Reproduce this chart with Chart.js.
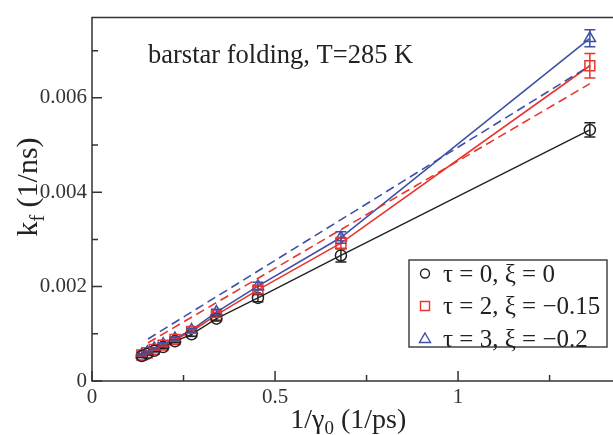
<!DOCTYPE html>
<html>
<head>
<meta charset="utf-8">
<script src="https://cdn.jsdelivr.net/npm/chart.js@4.4.0/dist/chart.umd.min.js"></script>
<style>
  html, body { margin: 0; padding: 0; overflow: hidden; background: #fff; }
  canvas { display: block; }
</style>
</head>
<body>
<canvas id="kfChart" width="613" height="435"></canvas>
<script>
// 1/gamma0 values (1/ps)
var invGamma = [0.1360, 0.1511, 0.1700, 0.1943, 0.2267, 0.2720, 0.3400, 0.4533, 0.6800, 1.3600];
// k_f (1/ns) for each parameter set
var kfTau0 = [0.00053, 0.00058, 0.00064, 0.00072, 0.00084, 0.00099, 0.00132, 0.00176, 0.00266, 0.00532];
var kfTau2 = [0.00055, 0.00060, 0.00067, 0.00076, 0.00088, 0.00105, 0.00140, 0.00193, 0.00292, 0.00668];
var kfTau3 = [0.00056, 0.00061, 0.00069, 0.00078, 0.00090, 0.00108, 0.00146, 0.00201, 0.00304, 0.00726];
// error bars
var errTau0 = [0.00002, 0.00002, 0.00002, 0.00003, 0.00003, 0.00004, 0.00005, 0.00008, 0.00014, 0.00015];
var errTau2 = [0.00002, 0.00002, 0.00002, 0.00003, 0.00003, 0.00004, 0.00005, 0.00008, 0.00012, 0.00026];
var errTau3 = [0.00002, 0.00002, 0.00002, 0.00003, 0.00003, 0.00004, 0.00006, 0.00008, 0.00012, 0.00018];
// dashed linear extrapolations
var dashX = [0.153, 1.36];
var dashTau2 = [0.00081, 0.00630];
var dashTau3 = [0.00089, 0.00668];

var legendLabels = ["\u03c4 = 0, \u03be = 0", "\u03c4 = 2, \u03be = \u22120.15", "\u03c4 = 3, \u03be = \u22120.2"];
var blackColor = "#222222";
var redColor = "#e8352d";
var blueColor = "#3d50a6";
var serif = "'Liberation Serif', 'DejaVu Serif', serif";

function toPoints(xs, ys) {
    var pts = [];
    for (var i = 0; i < xs.length; i++) {
        pts.push({ x: xs[i], y: ys[i] });
    }
    return pts;
}

function isMultiple(v, step) {
    var r = v / step;
    return Math.abs(r - Math.round(r)) < 1e-6;
}

var datasets = [
    { label: "dash3", data: toPoints(dashX, dashTau3), borderColor: blueColor, borderWidth: 1.6, borderDash: [9, 5], pointRadius: 0, showLine: true },
    { label: "dash2", data: toPoints(dashX, dashTau2), borderColor: redColor, borderWidth: 1.6, borderDash: [9, 5], pointRadius: 0, showLine: true },
    { label: "tau0", data: toPoints(invGamma, kfTau0), err: errTau0, borderColor: blackColor, borderWidth: 1.4, showLine: true,
      pointStyle: "circle", pointRadius: 5.5, pointBorderColor: blackColor, pointBackgroundColor: "rgba(0,0,0,0)", pointBorderWidth: 1.5 },
    { label: "tau2", data: toPoints(invGamma, kfTau2), err: errTau2, borderColor: redColor, borderWidth: 1.6, showLine: true,
      pointStyle: "rect", pointRadius: 7, pointBorderColor: redColor, pointBackgroundColor: "rgba(0,0,0,0)", pointBorderWidth: 1.5 },
    { label: "tau3", data: toPoints(invGamma, kfTau3), err: errTau3, borderColor: blueColor, borderWidth: 1.6, showLine: true,
      pointStyle: "triangle", pointRadius: 6.5, pointBorderColor: blueColor, pointBackgroundColor: "rgba(0,0,0,0)", pointBorderWidth: 1.5 },
];

// error bars drawn from each dataset's err array
var errorBarPlugin = {
    id: "errorBars",
    afterDatasetsDraw: function (chart) {
        var ctx = chart.ctx;
        var xs = chart.scales.x, ys = chart.scales.y;
        ctx.save();
        chart.data.datasets.forEach(function (ds) {
            if (!ds.err) return;
            ctx.strokeStyle = ds.borderColor;
            ctx.lineWidth = 1.5;
            ds.data.forEach(function (p, i) {
                var px = xs.getPixelForValue(p.x);
                var top = ys.getPixelForValue(p.y + ds.err[i]);
                var bot = ys.getPixelForValue(p.y - ds.err[i]);
                ctx.beginPath();
                ctx.moveTo(px, top); ctx.lineTo(px, bot);
                ctx.moveTo(px - 5.5, top); ctx.lineTo(px + 5.5, top);
                ctx.moveTo(px - 5.5, bot); ctx.lineTo(px + 5.5, bot);
                ctx.stroke();
            });
        });
        ctx.restore();
    },
};

// frame (right side is cut off in the source), inward ticks, titles, legend box
var decorPlugin = {
    id: "decor",
    afterDraw: function (chart) {
        var ctx = chart.ctx;
        var a = chart.chartArea;
        var xs = chart.scales.x, ys = chart.scales.y;
        ctx.save();
        ctx.strokeStyle = "#333";
        ctx.lineWidth = 1.5;
        ctx.beginPath();
        ctx.moveTo(chart.width, a.top);
        ctx.lineTo(a.left, a.top);
        ctx.lineTo(a.left, a.bottom);
        ctx.lineTo(chart.width, a.bottom);
        ctx.stroke();

        ctx.beginPath();
        xs.ticks.forEach(function (t) {
            if (!isMultiple(t.value, 0.25)) return;
            var px = xs.getPixelForValue(t.value);
            var len = isMultiple(t.value, 0.5) ? 10 : 6;
            ctx.moveTo(px, a.bottom); ctx.lineTo(px, a.bottom - len);
        });
        ys.ticks.forEach(function (t) {
            if (!isMultiple(t.value, 0.001)) return;
            var py = ys.getPixelForValue(t.value);
            var len = isMultiple(t.value, 0.002) ? 10 : 6;
            ctx.moveTo(a.left, py); ctx.lineTo(a.left + len, py);
        });
        ctx.stroke();

        ctx.fillStyle = "#222";
        ctx.textBaseline = "alphabetic";

        // annotation
        ctx.font = "26.5px " + serif;
        ctx.textAlign = "left";
        ctx.fillText("barstar folding, T=285 K", a.left + 56, a.top + 45);

        // x title: 1/γ0 (1/ps)
        var big = "28px " + serif, small = "19px " + serif;
        ctx.font = big;
        var w1 = ctx.measureText("1/\u03b3").width;
        var w3 = ctx.measureText(" (1/ps)").width;
        ctx.font = small;
        var w2 = ctx.measureText("0").width;
        var cx = xs.getPixelForValue(0.7);
        var x0 = cx - (w1 + w2 + w3) / 2;
        var base = 428;
        ctx.font = big;
        ctx.fillText("1/\u03b3", x0, base);
        ctx.font = small;
        ctx.fillText("0", x0 + w1, base + 6);
        ctx.font = big;
        ctx.fillText(" (1/ps)", x0 + w1 + w2, base);

        // y title: k_f (1/ns)
        var ybig = "30px " + serif, ysmall = "20px " + serif;
        ctx.save();
        ctx.translate(37, 187);
        ctx.rotate(-Math.PI / 2);
        ctx.font = ybig;
        var k1 = ctx.measureText("k").width;
        var k3 = ctx.measureText(" (1/ns)").width;
        ctx.font = ysmall;
        var k2 = ctx.measureText("f").width;
        var y0 = -(k1 + k2 + k3) / 2;
        ctx.font = ybig;
        ctx.fillText("k", y0, 0);
        ctx.font = ysmall;
        ctx.fillText("f", y0 + k1, 7);
        ctx.font = ybig;
        ctx.fillText(" (1/ns)", y0 + k1 + k2, 0);
        ctx.restore();

        // legend
        var lx = 409, ly = 260, lw = 198, lh = 87;
        ctx.strokeStyle = "#444";
        ctx.lineWidth = 1.5;
        ctx.strokeRect(lx, ly, lw, lh);
        var colors = [blackColor, redColor, blueColor];
        ctx.font = "25px " + serif;
        for (var i = 0; i < legendLabels.length; i++) {
            var my = ly + 13.5 + i * 32.5;
            var mx = lx + 16;
            ctx.strokeStyle = colors[i];
            ctx.lineWidth = 1.4;
            ctx.beginPath();
            if (i === 0) {
                ctx.arc(mx, my, 4.5, 0, Math.PI * 2);
            } else if (i === 1) {
                ctx.rect(mx - 4.5, my - 4.5, 9, 9);
            } else {
                ctx.moveTo(mx, my - 5.5); ctx.lineTo(mx + 5.5, my + 4); ctx.lineTo(mx - 5.5, my + 4); ctx.closePath();
            }
            ctx.stroke();
            ctx.fillStyle = "#222";
            ctx.fillText(legendLabels[i], lx + 34, my + 8);
        }
        ctx.restore();
    },
};

var config = {
    type: "scatter",
    data: { datasets: datasets },
    options: {
        responsive: false,
        animation: false,
        devicePixelRatio: 1,
        layout: { padding: { top: 11, left: 0, right: 3, bottom: 0 } },
        plugins: {
            legend: { display: false },
            tooltip: { enabled: false },
        },
        elements: { line: { tension: 0 } },
        scales: {
            x: {
                type: "linear",
                min: 0,
                max: 1.4,
                grid: { display: false, drawTicks: false },
                border: { display: false },
                ticks: {
                    stepSize: 0.25,
                    padding: 4,
                    color: "#333",
                    font: { family: serif, size: 21 },
                    maxRotation: 0,
                    autoSkip: false,
                    callback: function (value) {
                        if (!isMultiple(value, 0.5)) return "";
                        return String(Math.round(value * 2) / 2);
                    },
                },
                afterFit: function (scale) { scale.height = 54; },
            },
            y: {
                type: "linear",
                min: 0,
                max: 0.0077,
                grid: { display: false, drawTicks: false },
                border: { display: false },
                ticks: {
                    stepSize: 0.001,
                    padding: 5,
                    color: "#333",
                    font: { family: serif, size: 21 },
                    autoSkip: false,
                    callback: function (value) {
                        if (!isMultiple(value, 0.002)) return "";
                        if (Math.abs(value) < 1e-9) return "0";
                        return value.toFixed(3);
                    },
                },
                afterFit: function (scale) { scale.width = 92; },
            },
        },
    },
    plugins: [errorBarPlugin, decorPlugin],
};

var kfChart = new Chart("kfChart", config);
</script>
</body>
</html>
